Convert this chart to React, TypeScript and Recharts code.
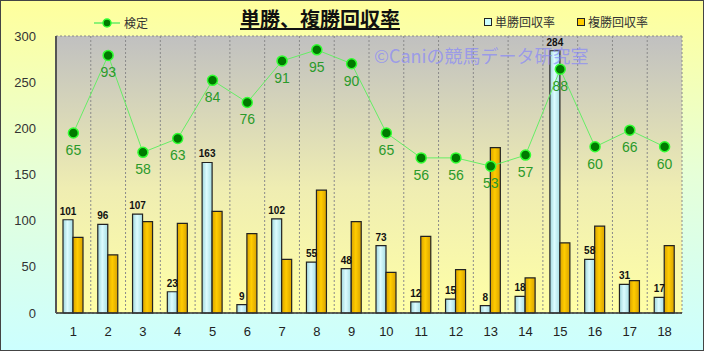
import {
  ComposedChart, Bar, Line, XAxis, YAxis, CartesianGrid, LabelList
} from 'recharts'

const races = ['1', '2', '3', '4', '5', '6', '7', '8', '9', '10', '11', '12', '13', '14', '15', '16', '17', '18']
const tanshoRate = [101, 96, 107, 23, 163, 9, 102, 55, 48, 73, 12, 15, 8, 18, 284, 58, 31, 17]
const fukushoRate = [82, 63, 99, 97, 110, 86, 58, 133, 99, 44, 83, 47, 179, 38, 76, 94, 35, 73]
const kentei = [65, 93, 58, 63, 84, 76, 91, 95, 90, 65, 56, 56, 53, 57, 88, 60, 66, 60]
const yTicks = [0, 50, 100, 150, 200, 250, 300]

const data = races.map((r, i) => ({
  race: r,
  tansho: tanshoRate[i],
  fukusho: fukushoRate[i],
  kentei: kentei[i]
}))

const jp = '"Noto Sans CJK JP", "Liberation Sans", sans-serif'
const num = '"Liberation Sans", Arial, sans-serif'

export default function App() {
  return (
    <div style={{
      position: 'relative', width: 704, height: 351, overflow: 'hidden',
      background: 'linear-gradient(to bottom, #ffff9c 0%, #e6ffd8 50%, #ccffff 100%)'
    }}>
      <style>{'body{margin:0}'}</style>
      <ComposedChart
        width={704} height={351} data={data}
        margin={{ top: 36, right: 22, left: 0, bottom: 8 }}
        barGap={0} barSize={10}
        style={{ position: 'absolute', left: 0, top: 0 }}
      >
        <defs>
          <linearGradient id="plotBg" x1="0" y1="0" x2="0" y2="1">
            <stop offset="0%" stopColor="#c0c0c0" />
            <stop offset="55%" stopColor="#efedb2" />
            <stop offset="100%" stopColor="#ffffa6" />
          </linearGradient>
          <linearGradient id="cyanBar" x1="0" y1="0" x2="1" y2="0">
            <stop offset="0%" stopColor="#9fd6dc" />
            <stop offset="45%" stopColor="#dcfcff" />
            <stop offset="100%" stopColor="#a6dde3" />
          </linearGradient>
          <linearGradient id="goldBar" x1="0" y1="0" x2="1" y2="0">
            <stop offset="0%" stopColor="#d9a300" />
            <stop offset="45%" stopColor="#ffcc00" />
            <stop offset="100%" stopColor="#d9a300" />
          </linearGradient>
        </defs>
        <CartesianGrid
          fill="url(#plotBg)" stroke="#8a8a8a" strokeDasharray="2 2"
          verticalCoordinatesGenerator={({ offset }: any) =>
            races.map((_, i) => offset.left + (i * offset.width) / races.length).concat(offset.left + offset.width)
          }
        />
        <XAxis
          dataKey="race" height={30} tickLine={false}
          axisLine={{ stroke: '#333', strokeWidth: 1.5 }}
          tick={{ fill: '#222', fontSize: 13, fontFamily: num }} tickMargin={8}
        />
        <YAxis
          yAxisId="left" width={56} domain={[0, 300]} ticks={yTicks}
          tickLine={false} axisLine={{ stroke: '#555', strokeWidth: 2 }}
          tick={{ fill: '#333', fontSize: 13, fontFamily: num }} tickMargin={14}
        />
        <YAxis yAxisId="right" orientation="right" domain={[0, 100]} hide />
        <Bar yAxisId="left" dataKey="tansho" fill="url(#cyanBar)" stroke="#222" strokeWidth={1.2} isAnimationActive={false}>
          <LabelList dataKey="tansho" position="top" offset={5}
            style={{ fill: '#111', fontSize: 10, fontWeight: 'bold', fontFamily: num }} />
        </Bar>
        <Bar yAxisId="left" dataKey="fukusho" fill="url(#goldBar)" stroke="#222" strokeWidth={1.2} isAnimationActive={false} />
        <Line
          yAxisId="right" dataKey="kentei" stroke="#66ee66" strokeWidth={1}
          dot={{ r: 5, fill: '#007a00', stroke: '#33ff33', strokeWidth: 1.5 }}
          isAnimationActive={false}
        >
          <LabelList dataKey="kentei" position="bottom" offset={12}
            style={{ fill: '#2a9a2a', fontSize: 14, fontFamily: num }} />
        </Line>
      </ComposedChart>

      <div style={{
        position: 'absolute', left: 374, top: 42, fontSize: 18, fontFamily: jp,
        color: 'rgba(130,130,255,0.65)', whiteSpace: 'nowrap', pointerEvents: 'none'
      }}>©Caniの競馬データ研究室</div>

      <div style={{
        position: 'absolute', left: 240, top: 4, fontSize: 20, fontWeight: 'bold',
        fontFamily: jp, textDecoration: 'underline', color: '#111', whiteSpace: 'nowrap'
      }}>単勝、複勝回収率</div>

      <div style={{ position: 'absolute', left: 94, top: 14, display: 'flex', alignItems: 'center', fontFamily: jp, fontSize: 12, color: '#333' }}>
        <svg width={26} height={12}>
          <line x1={0} y1={6} x2={26} y2={6} stroke="#66ee66" strokeWidth={1.5} />
          <circle cx={13} cy={6} r={4} fill="#007a00" stroke="#33ff33" strokeWidth={1.5} />
        </svg>
        <span style={{ marginLeft: 4 }}>検定</span>
      </div>
      <div style={{ position: 'absolute', left: 484, top: 13, display: 'flex', alignItems: 'center', fontFamily: jp, fontSize: 12, color: '#333' }}>
        <span style={{ width: 6, height: 6, border: '1px solid #222', background: '#ccffff', marginRight: 3 }} />
        <span>単勝回収率</span>
      </div>
      <div style={{ position: 'absolute', left: 577, top: 13, display: 'flex', alignItems: 'center', fontFamily: jp, fontSize: 12, color: '#333' }}>
        <span style={{ width: 6, height: 6, border: '1px solid #222', background: '#ffcc00', marginRight: 3 }} />
        <span>複勝回収率</span>
      </div>

      <div style={{
        position: 'absolute', left: 0, top: 0, width: 704, height: 351, boxSizing: 'border-box',
        border: '1px solid #444', pointerEvents: 'none'
      }} />
    </div>
  )
}
